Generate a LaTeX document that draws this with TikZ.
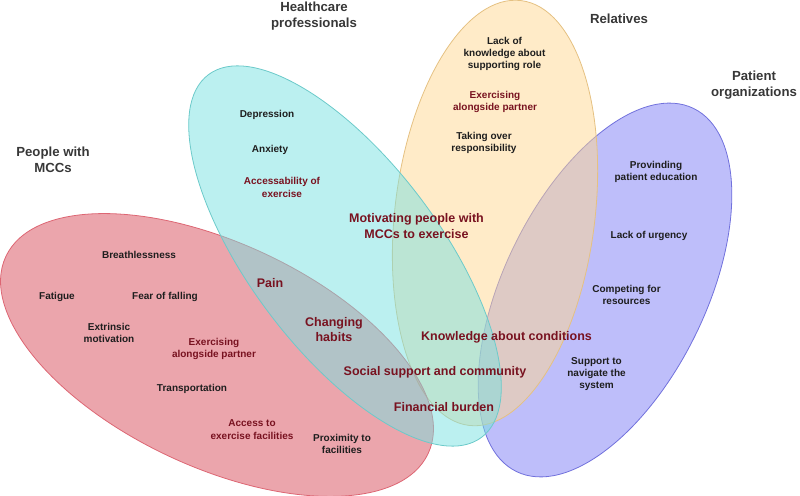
\documentclass[tikz,border=0pt]{standalone}
\usepackage{fontspec}
\setmainfont{Liberation Sans}
\usepackage{xcolor}
\usepackage{tikz}
\definecolor{mccred}{RGB}{215,75,90}
\definecolor{hcpcyan}{RGB}{120,225,225}
\definecolor{relyel}{RGB}{255,215,145}
\definecolor{orgblue}{RGB}{125,125,245}
\definecolor{txtred}{RGB}{120,18,32}
\definecolor{txtdark}{RGB}{30,30,30}
\definecolor{ttldark}{RGB}{55,55,55}
\tikzset{
  setr/.style={fill=mccred,fill opacity=0.5,draw=mccred!85,line width=0.8pt},
  setc/.style={fill=hcpcyan,fill opacity=0.5,draw=hcpcyan!90!black,line width=0.8pt},
  sety/.style={fill=relyel,fill opacity=0.5,draw=relyel!90!black,line width=0.8pt},
  setb/.style={fill=orgblue,fill opacity=0.5,draw=orgblue!90!black,line width=0.8pt},
  ttl/.style={align=center,text=ttldark,font=\bfseries\fontsize{13.2}{15.7}\selectfont},
  itm/.style={align=center,text=txtdark,font=\bfseries\fontsize{10}{12.3}\selectfont},
  shr/.style={itm,text=txtred},
  big/.style={align=center,text=txtred,font=\bfseries\fontsize{12.5}{15.6}\selectfont}
}

\begin{document}
\begin{tikzpicture}[x=1pt,y=1pt]
\useasboundingbox (0,0) rectangle (800,495);
% the four groups
\draw[setb,shift={(605,205)},rotate=64] (0,0) ellipse [x radius=202,y radius=101];
\draw[sety,shift={(495,282)},rotate=83] (0,0) ellipse [x radius=214,y radius=100];
\draw[setr,shift={(217,140)},rotate=-25] (0,0) ellipse [x radius=233,y radius=112];
\draw[setc,shift={(345,239)},rotate=-53] (0,0) ellipse [x radius=227,y radius=95];
% titles
\node[ttl] (pwm) at (53,335) {People with\\MCCs};
\node[ttl] (hcp) at (314,479) {Healthcare\\professionals};
\node[ttl] (rel) at (619,476) {Relatives};
\node[ttl] (porg) at (754,410) {Patient\\organizations};
% people with MCCs
\node[itm] (breath) at (139,240) {Breathlessness};
\node[itm] (fatig) at (57,198) {Fatigue};
\node[itm] (fear) at (165,198) {Fear of falling};
\node[itm] (extr) at (109,162) {Extrinsic\\motivation};
\node[shr] (partA) at (214,146) {Exercising\\alongside partner};
\node[itm] (transp) at (192,106) {Transportation};
\node[shr] (access) at (252,65.5) {Access to\\exercise facilities};
\node[itm] (prox) at (342,51) {Proximity to\\facilities};
% healthcare professionals
\node[itm] (depr) at (267,380) {Depression};
\node[itm] (anx) at (270,345) {Anxiety};
\node[shr] (accex) at (282,307.5) {Accessability of\\exercise};
% relatives
\node[itm] (lack) at (504.5,441) {Lack of\\knowledge about\\supporting role};
\node[shr] (partB) at (495,393) {Exercising\\alongside partner};
\node[itm] (takov) at (484,352) {Taking over\\responsibility};
% patient organizations
\node[itm] (educ) at (656,323) {Provinding\\patient education};
\node[itm] (urg) at (649,259) {Lack of urgency};
\node[itm] (comp) at (626.5,200) {Competing for\\resources};
\node[itm] (nav) at (596.5,121) {Support to\\navigate the\\system};
% shared themes
\node[big] (pain) at (270,212) {Pain};
\node[big] (habit) at (334,165.5) {Changing\\habits};
\node[big] (motiv) at (416.5,269) {Motivating people with\\MCCs to exercise};
\node[big] (know) at (506.5,158) {Knowledge about conditions};
\node[big] (social) at (435,123) {Social support and community};
\node[big] (fin) at (444,88) {Financial burden};
\end{tikzpicture}
\end{document}
